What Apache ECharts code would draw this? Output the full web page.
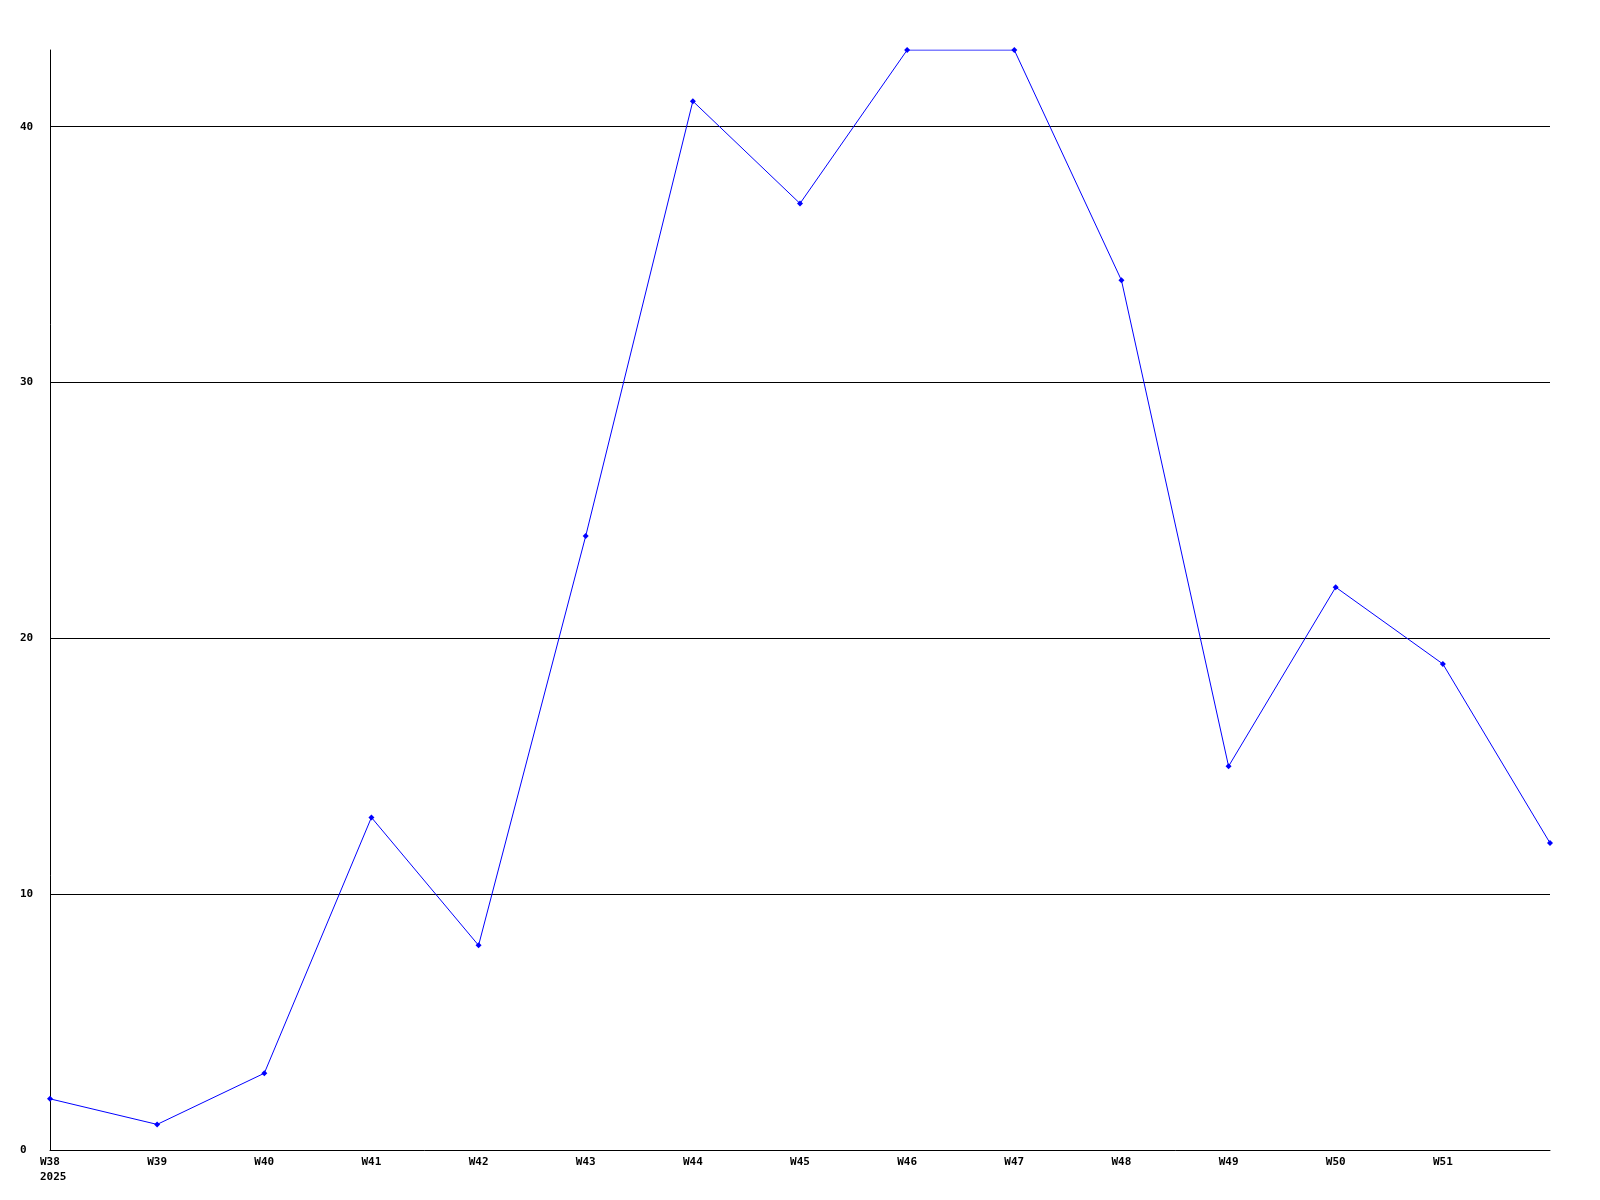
<!DOCTYPE html>
<html>
<head>
<meta charset="utf-8">
<script src="https://cdn.jsdelivr.net/npm/echarts@6/dist/echarts.min.js"></script>
<style>
html,body{margin:0;padding:0;background:#fff;}
#chart{width:1600px;height:1200px;}
</style>
</head>
<body>
<div id="chart"></div>
<script>
const categories = ['W38','W39','W40','W41','W42','W43','W44','W45','W46','W47','W48','W49','W50','W51','W52'];
const values = [2, 1, 3, 13, 8, 24, 41, 37, 43, 43, 34, 15, 22, 19, 12];
const firstLabelYear = '2025';
const yMax = 43;
const yInterval = 10;

const chart = echarts.init(document.getElementById('chart'), null, {renderer: 'canvas'});
const labelFont = {fontFamily: '"DejaVu Sans Mono", monospace', fontWeight: 'bold', fontSize: 11, color: '#000'};
const tok = Object.assign({width: 27, align: 'left', lineHeight: 15}, labelFont);
const xData = categories.map(function (c, i) {
  if (i === 0) {
    return {value: c, textStyle: {padding: [0, 0, 0, 7]}};
  }
  return c;
});
chart.setOption({
  animation: false,
  backgroundColor: '#fff',
  grid: {left: 50, right: 50, top: 50, bottom: 50, containLabel: false},
  xAxis: {
    type: 'category',
    data: xData,
    boundaryGap: false,
    axisLine: {show: true, lineStyle: {color: '#000', width: 1}},
    axisTick: {show: false},
    splitLine: {show: false},
    axisLabel: Object.assign({
      margin: 5,
      interval: 0,
      lineHeight: 15,
      rich: {a: tok, b: tok},
      formatter: function (v, i) {
        if (i === categories.length - 1) return '';
        if (i === 0) return '{a|' + v + '}\n{b|' + firstLabelYear + '}';
        return v;
      }
    }, labelFont)
  },
  yAxis: {
    type: 'value',
    min: 0,
    max: yMax,
    interval: yInterval,
    axisLine: {show: true, lineStyle: {color: '#000', width: 1}},
    axisTick: {show: false},
    splitLine: {show: true, showMinLine: false, showMaxLine: false, lineStyle: {color: '#000', width: 1}},
    axisLabel: Object.assign({
      align: 'left',
      margin: 30,
      showMaxLabel: false
    }, labelFont)
  },
  series: [{
    type: 'line',
    data: values,
    symbol: 'diamond',
    symbolSize: 6,
    showSymbol: true,
    lineStyle: {color: '#0000ff', width: 1},
    itemStyle: {color: '#0000ff'},
    z: 5
  }]
});
</script>
</body>
</html>
